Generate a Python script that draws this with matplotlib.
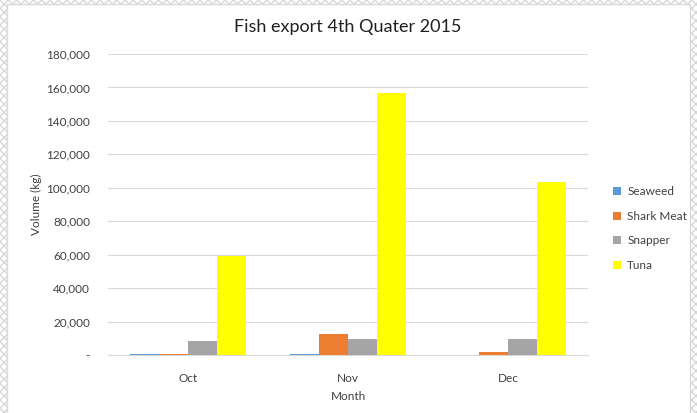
import numpy as np
import matplotlib
matplotlib.use('Agg')
import matplotlib.pyplot as plt
from matplotlib.patches import Rectangle
from matplotlib.ticker import FuncFormatter

months = ['Oct', 'Nov', 'Dec']
series_names = ['Seaweed', 'Shark Meat', 'Snapper', 'Tuna']
seaweed = [600, 500, 0]
shark_meat = [700, 12700, 1800]
snapper = [8500, 9800, 9800]
tuna = [59000, 156800, 103500]
colors = ['#5B9BD5', '#ED7D31', '#A5A5A5', '#FFFF00']

plt.rcParams['font.family'] = ['Lato', 'DejaVu Sans']

fig = plt.figure(figsize=(6.97, 4.13), dpi=100)
fig.patch.set_facecolor('white')

# fondo rayado alrededor del area del grafico
fig.patches.append(Rectangle((0, 0), 1, 1, transform=fig.transFigure,
                             facecolor='white', edgecolor='#d8d8d8',
                             hatch='xxxx', linewidth=0, zorder=-2))
fig.patches.append(Rectangle((7 / 697, -0.01), 683 / 697, 1 - 4 / 413 + 0.01,
                             transform=fig.transFigure, facecolor='white',
                             edgecolor='#d9d9d9', linewidth=1, zorder=-1))

ax = fig.add_axes([108 / 697, 1 - 355 / 413, 480 / 697, 301 / 413])
ax.set_facecolor('none')

x = np.arange(len(months))
w = 0.18
data = [seaweed, shark_meat, snapper, tuna]
for i, (name, vals) in enumerate(zip(series_names, data)):
    ax.bar(x + (i - 1.5) * w, vals, w, color=colors[i], label=name, zorder=3)

ax.set_xlim(-0.5, 2.5)
ax.set_ylim(0, 180000)
ax.set_yticks(np.arange(0, 180001, 20000))
ax.yaxis.set_major_formatter(FuncFormatter(lambda v, p: '-' if v == 0 else f'{int(v):,}'))
ax.set_xticks(x)
ax.set_xticklabels(months)
ax.grid(axis='y', color='#D9D9D9', linewidth=0.8, zorder=0)
for s in ['top', 'right', 'left']:
    ax.spines[s].set_visible(False)
ax.spines['bottom'].set_color('#D9D9D9')
ax.tick_params(length=0, labelsize=8.5, colors='#404040')
ax.tick_params(axis='x', pad=13)
ax.tick_params(axis='y', pad=13)

ax.set_title('Fish export 4th Quater 2015', fontsize=13, color='#202020', pad=16)
ax.set_xlabel('Month', fontsize=8.5, color='#404040', labelpad=5)
ax.set_ylabel('Volume (kg)', fontsize=8.5, color='#404040', labelpad=3)

ax.legend(loc='center left', bbox_to_anchor=(1.03, 0.42), frameon=False,
          fontsize=8.5, handlelength=0.7, handleheight=0.7, labelspacing=1.15,
          handletextpad=0.5, labelcolor='#404040')

plt.savefig('out.png', dpi=100)
